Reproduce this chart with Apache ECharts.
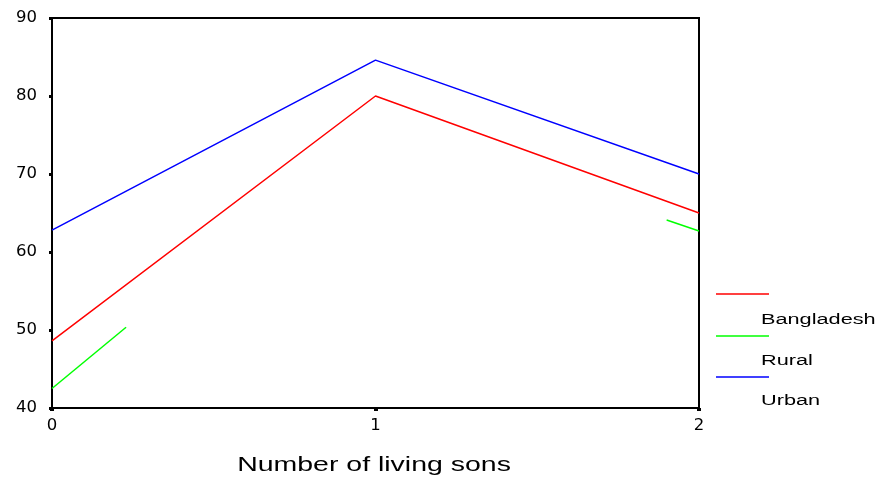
<!DOCTYPE html>
<html><head><meta charset="utf-8">
<script src="https://cdn.jsdelivr.net/npm/echarts@6/dist/echarts.min.js"></script>
<style>html,body{margin:0;padding:0;background:#fff}#c{width:880px;height:477px}</style>
</head><body><div id="c"></div>
<script>
const xTicks = [0, 1, 2];
const bangladesh = [48.6, 80.0, 65.0];
const urban = [62.8, 84.6, 70.0];
// Rural: only the visible pieces of the green line in the reference
const ruralStart = [[0, 42.5], [0.229, 50.35]];
const ruralEnd = [[1.9, 64.1], [2, 62.7]];
const legendNames = ['Bangladesh', 'Rural', 'Urban'];
const colors = ['#ff0000', '#00ff00', '#0000ff'];

const chart = echarts.init(document.getElementById('c'), null, {renderer: 'canvas'});
const lineStyle = c => ({color: c, width: 1.5});
const legendItems = [];
const lineYs = [294, 336, 377];
const textYs = [320, 361, 401];
legendNames.forEach((n, i) => {
  legendItems.push({type: 'line', shape: {x1: 716, y1: lineYs[i], x2: 769, y2: lineYs[i]}, style: {stroke: colors[i], lineWidth: 1.5}});
  legendItems.push({type: 'text', x: 761, y: textYs[i], scaleX: 1.4, style: {text: n, x: 0, y: 0, font: '15.5px "Liberation Sans", Arial, sans-serif', fill: '#000', verticalAlign: 'middle', align: 'left'}});
});
chart.setOption({
  animation: false,
  backgroundColor: '#fff',
  grid: {left: 52, top: 18, right: 181, bottom: 69, show: true, borderColor: '#000', borderWidth: 2, backgroundColor: 'transparent'},
  xAxis: {
    type: 'value', min: xTicks[0], max: xTicks[xTicks.length - 1], interval: 1,
    axisLine: {show: true, lineStyle: {color: '#000', width: 2}},
    axisTick: {show: true, length: 3, lineStyle: {color: '#000', width: 4}},
    axisLabel: {color: '#000', fontFamily: 'DejaVu Sans', fontSize: 16.5, margin: 9},
    splitLine: {show: false}
  },
  yAxis: {
    type: 'value', min: 40, max: 90, interval: 10,
    axisLine: {show: true, lineStyle: {color: '#000', width: 2}},
    axisTick: {show: true, length: 3, lineStyle: {color: '#000', width: 3}},
    axisLabel: {color: '#000', fontFamily: 'DejaVu Sans', fontSize: 16.5, margin: 15},
    splitLine: {show: false}
  },
  series: [
    {name: 'Bangladesh', type: 'line', data: xTicks.map((x, i) => [x, bangladesh[i]]), showSymbol: false, lineStyle: lineStyle(colors[0]), z: 3},
    {name: 'Rural', type: 'line', data: ruralStart, showSymbol: false, lineStyle: lineStyle(colors[1]), z: 2},
    {name: 'Rural', type: 'line', data: ruralEnd, showSymbol: false, lineStyle: lineStyle(colors[1]), z: 2},
    {name: 'Urban', type: 'line', data: xTicks.map((x, i) => [x, urban[i]]), showSymbol: false, lineStyle: lineStyle(colors[2]), z: 3}
  ],
  graphic: legendItems.concat([
    {type: 'text', x: 374, y: 466, scaleX: 1.46, style: {text: 'Number of living sons', x: 0, y: 0, font: '19.5px "Liberation Sans", Arial, sans-serif', fill: '#000', align: 'center', verticalAlign: 'middle'}}
  ])
});
</script></body></html>
